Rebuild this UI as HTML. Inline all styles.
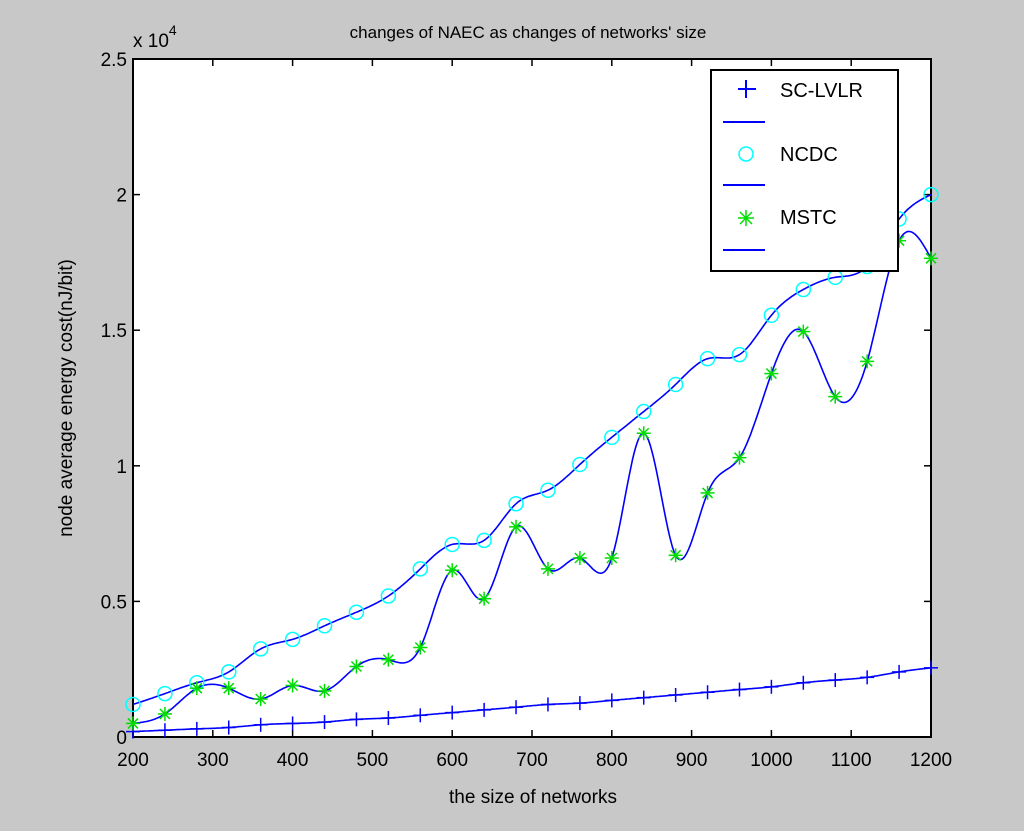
<!DOCTYPE html>
<html><head><meta charset="utf-8"><style>
body{margin:0;background:#c8c8c8;}
svg text{font-family:"Liberation Sans",sans-serif;fill:#000;}
</style></head><body>
<svg width="1024" height="826" viewBox="0 0 1024 826" id="chart">
<rect x="0" y="0" width="1024" height="826" fill="#c8c8c8"/>
<rect x="133" y="59" width="798" height="678" fill="#fff" stroke="#000" stroke-width="2"/>
<text x="528" y="38" font-size="17" text-anchor="middle">changes of NAEC as changes of networks' size</text>
<text x="533" y="803" font-size="19" text-anchor="middle">the size of networks</text>
<text transform="translate(72,398) rotate(-90)" font-size="19" text-anchor="middle">node average energy cost(nJ/bit)</text>
<text x="133" y="47" font-size="19">x 10<tspan dy="-12" font-size="14">4</tspan></text>
<g id="axes"></g>
<g id="series"></g>
<g>
<rect x="711" y="70" width="187" height="201" fill="#fff" stroke="#000" stroke-width="2"/>
<line x1="738" y1="89" x2="756" y2="89" stroke="#0000ff" stroke-width="2"/><line x1="746" y1="80" x2="746" y2="98" stroke="#0000ff" stroke-width="2"/>
<text x="780" y="97" font-size="20">SC-LVLR</text>
<line x1="723" y1="122" x2="765" y2="122" stroke="#0000ff" stroke-width="2"/>
<circle cx="746" cy="154" r="7" fill="none" stroke="#00ffff" stroke-width="1.5"/>
<text x="780" y="161" font-size="20">NCDC</text>
<line x1="723" y1="185" x2="765" y2="185" stroke="#0000ff" stroke-width="2"/>
<g stroke="#00dd00" stroke-width="1.5"><line x1="738" y1="218" x2="754" y2="218"/><line x1="746" y1="210" x2="746" y2="226"/><line x1="740" y1="212" x2="752" y2="224"/><line x1="752" y1="212" x2="740" y2="224"/></g>
<text x="780" y="224" font-size="20">MSTC</text>
<line x1="723" y1="250" x2="765" y2="250" stroke="#0000ff" stroke-width="2"/>
</g>
</svg>
<script>
const xValues=[200,240,280,320,360,400,440,480,520,560,600,640,680,720,760,800,840,880,920,960,1000,1040,1080,1120,1160,1200];
const scLvlr=[0.02,0.025,0.03,0.035,0.045,0.05,0.055,0.065,0.07,0.08,0.09,0.1,0.11,0.12,0.125,0.135,0.145,0.155,0.165,0.175,0.185,0.2,0.21,0.22,0.24,0.255];
const ncdc=[0.12,0.16,0.2,0.24,0.325,0.36,0.41,0.46,0.52,0.62,0.71,0.725,0.86,0.91,1.005,1.105,1.2,1.3,1.395,1.41,1.555,1.65,1.695,1.735,1.91,2.0];
const mstc=[0.05,0.085,0.18,0.18,0.14,0.19,0.17,0.26,0.285,0.33,0.615,0.51,0.775,0.62,0.66,0.66,1.12,0.67,0.9,1.03,1.34,1.495,1.255,1.385,1.83,1.765];
const xTicks=[200,300,400,500,600,700,800,900,1000,1100,1200];
const yTicks=[0,0.5,1,1.5,2,2.5];
const yTickLabels=["0","0.5","1","1.5","2","2.5"];
const NS="http://www.w3.org/2000/svg";
const L=133,R=931,T=59,B=737;
function xs(v){return L+(v-200)/1000*(R-L);}
function ys(v){return B-v/2.5*(B-T);}
function mk(tag,attrs,parent){const e=document.createElementNS(NS,tag);for(const k in attrs)e.setAttribute(k,attrs[k]);parent.appendChild(e);return e;}
const axes=document.getElementById('axes'),ser=document.getElementById('series');
xTicks.forEach(t=>{const x=xs(t);
mk('line',{x1:x,y1:B,x2:x,y2:B-7,stroke:'#000','stroke-width':1.5},axes);
mk('line',{x1:x,y1:T,x2:x,y2:T+7,stroke:'#000','stroke-width':1.5},axes);
const tx=mk('text',{x:x,y:B+29,'font-size':19,'text-anchor':'middle'},axes);tx.textContent=t;

});
yTicks.forEach((t,i)=>{const y=ys(t);
mk('line',{x1:L,y1:y,x2:L+7,y2:y,stroke:'#000','stroke-width':1.5},axes);
mk('line',{x1:R,y1:y,x2:R-7,y2:y,stroke:'#000','stroke-width':1.5},axes);
const tx=mk('text',{x:L-6,y:y+7,'font-size':19,'text-anchor':'end'},axes);tx.textContent=yTickLabels[i];

});
function spline(xsA,ysA){const n=xsA.length,h=[],a=[],m=new Array(n).fill(0);
for(let i=0;i<n-1;i++)h.push(xsA[i+1]-xsA[i]);
const al=[0],l=[1],mu=[0],z=[0];
for(let i=1;i<n-1;i++){const r=3/h[i]*(ysA[i+1]-ysA[i])-3/h[i-1]*(ysA[i]-ysA[i-1]);
l[i]=2*(xsA[i+1]-xsA[i-1])-h[i-1]*mu[i-1];mu[i]=h[i]/l[i];z[i]=(r-h[i-1]*z[i-1])/l[i];}
const c=new Array(n).fill(0);
for(let j=n-2;j>=0;j--)c[j]=z[j]-mu[j]*c[j+1];
const pts=[];
for(let i=0;i<n-1;i++){const b=(ysA[i+1]-ysA[i])/h[i]-h[i]*(c[i+1]+2*c[i])/3,d=(c[i+1]-c[i])/(3*h[i]);
for(let s=0;s<20;s++){const dx=h[i]*s/20;pts.push([xsA[i]+dx,ysA[i]+b*dx+c[i]*dx*dx+d*dx*dx*dx]);}}
pts.push([xsA[n-1],ysA[n-1]]);return pts;}
function line(vals,name){const p=spline(xValues,vals).map(q=>xs(q[0]).toFixed(1)+','+ys(q[1]).toFixed(1)).join(' ');
const e=mk('polyline',{points:p,fill:'none',stroke:'#0000ff','stroke-width':1.6},ser);

}
line(scLvlr,'sc-lvlr-line');line(ncdc,'ncdc-line');line(mstc,'mstc-line');
xValues.forEach((v,i)=>{
const x=xs(v);let y=ys(scLvlr[i]);
const g=mk('g',{stroke:'#0000ff','stroke-width':1.5},ser);


mk('line',{x1:x-7,y1:y,x2:x+7,y2:y},g);mk('line',{x1:x,y1:y-7,x2:x,y2:y+7},g);
y=ys(ncdc[i]);
const c=mk('circle',{cx:x,cy:y,r:7,fill:'none',stroke:'#00ffff','stroke-width':1.5},ser);


y=ys(mstc[i]);
const s=mk('g',{stroke:'#00dd00','stroke-width':1.5},ser);


mk('line',{x1:x-7,y1:y,x2:x+7,y2:y},s);mk('line',{x1:x,y1:y-7,x2:x,y2:y+7},s);
mk('line',{x1:x-5,y1:y-5,x2:x+5,y2:y+5},s);mk('line',{x1:x+5,y1:y-5,x2:x-5,y2:y+5},s);
});
</script>
</body></html>
